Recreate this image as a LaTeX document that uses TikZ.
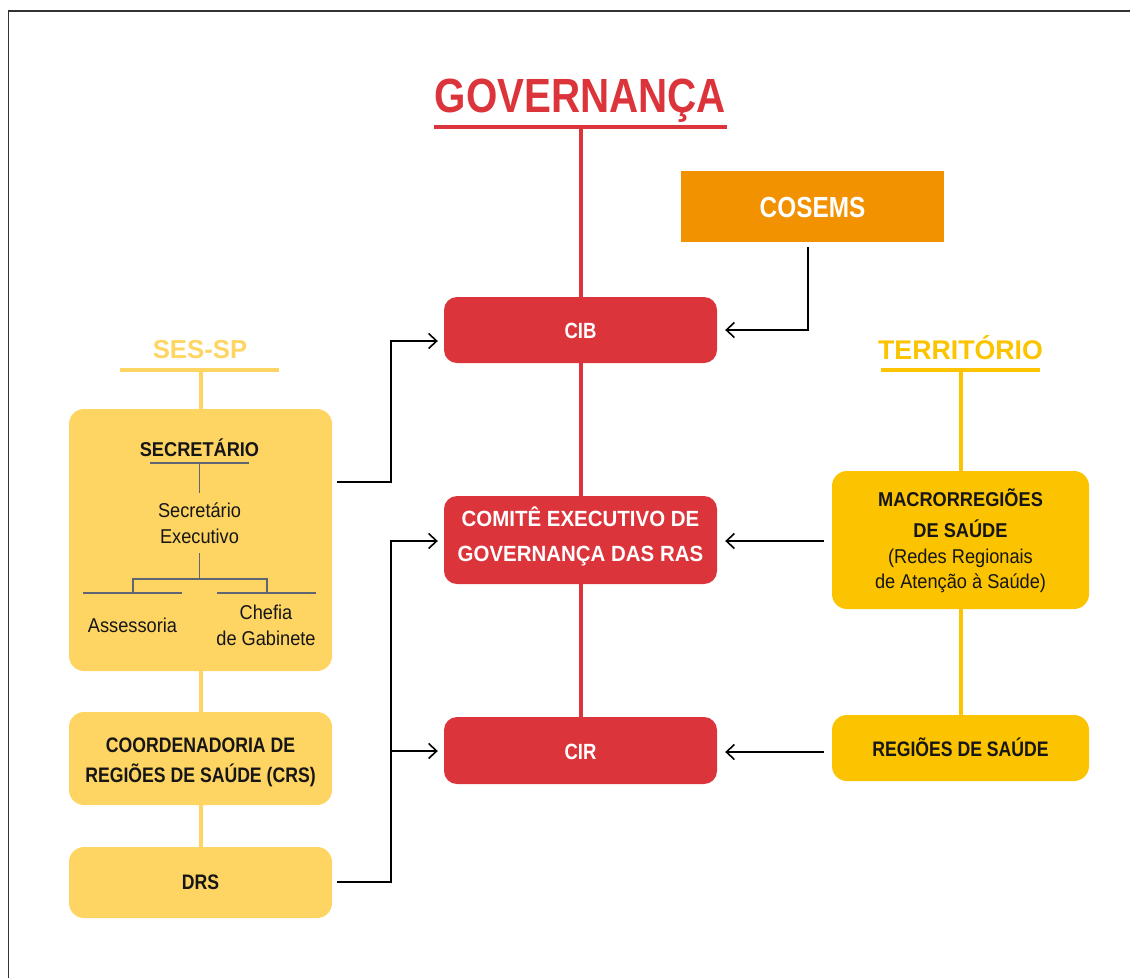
\documentclass[tikz,border=0pt]{standalone}
\usepackage{fontspec}
\setmainfont{Liberation Sans}[FakeStretch=0.84]
\newfontfamily\midfont{Liberation Sans}[FakeStretch=0.91]
\newfontfamily\comfont{Liberation Sans}[FakeStretch=0.93]
\newfontfamily\widefont{Liberation Sans}[FakeStretch=0.99]
\usetikzlibrary{arrows.meta,fit}
\definecolor{gred}{HTML}{DC343B}
\definecolor{gorange}{HTML}{F29200}
\definecolor{lyel}{HTML}{FED563}
\definecolor{dyel}{HTML}{FBC300}
\definecolor{ggray}{HTML}{5E6573}
\definecolor{tblack}{HTML}{161616}
\newcommand{\fs}[1]{\fontsize{#1}{#1}\selectfont}
\begin{document}
\begin{tikzpicture}[x=1pt,y=-1pt,
  redbox/.style={fill=gred,draw=none,rounded corners=13pt,inner sep=0pt},
  lbox/.style={fill=lyel,draw=none,rounded corners=15pt,inner sep=0pt},
  dbox/.style={fill=dyel,draw=none,rounded corners=15pt,inner sep=0pt},
  obox/.style={fill=gorange,draw=none,inner sep=0pt},
  txt/.style={anchor=base,inner sep=0pt,text=tblack},
  wtxt/.style={anchor=base,inner sep=0pt,text=white,font=\bfseries\fs{22}},
  conn/.style={draw=black,line width=1.8pt,-{Straight Barb[length=8pt,width=15pt,line width=1.6pt]}},
  redline/.style={draw=gred,line width=4pt},
  lline/.style={draw=lyel,line width=4pt},
  dline/.style={draw=dyel,line width=4pt},
  gline/.style={draw=ggray,line width=1.5pt}]
\useasboundingbox (0,0) rectangle (1130,978);
% frame
\draw[line width=1.6pt,draw=black!80] (8.5,978) -- (8.5,11) -- (1130,11);

% boxes
\node[obox,fit={(681,171) (944,242)}] (cosems) {};
\node[redbox,fit={(444,297) (717,363)}] (cib) {};
\node[redbox,fit={(444,496) (717,584)}] (comite) {};
\node[redbox,fit={(444,717) (717,784)}] (cir) {};
\node[lbox,fit={(69,409) (332,671)}] (ses) {};
\node[lbox,fit={(69,712) (332,805)}] (coord) {};
\node[lbox,fit={(69,847) (332,918)}] (drs) {};
\node[dbox,fit={(832,471) (1089,609)}] (macro) {};
\node[dbox,fit={(832,715) (1089,781)}] (reg) {};

% titles
\node[anchor=base,inner sep=0pt,text=gred,font=\bfseries\fs{48}] (tgov) at (580.5,112) {GOVERNANÇA};
\draw[redline] (434,127) -- (727,127);
\node[anchor=base,inner sep=0pt,text=lyel,font=\widefont\bfseries\fs{26}] (tses) at (200,358) {SES-SP};
\draw[lline] (120,370) -- (279,370);
\node[anchor=base,inner sep=0pt,text=dyel,font=\widefont\bfseries\fs{27}] (tter) at (960.5,359) {TERRITÓRIO};
\draw[dline] (881,370) -- (1040,370);

% spines
\draw[redline] (cib.north |- 0,127) -- (cib.north);
\draw[redline] (cib.south) -- (comite.north);
\draw[redline] (comite.south) -- (cir.north);
\draw[lline] (ses.north |- 0,370) -- (ses.north);
\draw[lline] (ses.south) -- (coord.north);
\draw[lline] (coord.south) -- (drs.north);
\draw[dline] (macro.north |- 0,370) -- (macro.north);
\draw[dline] (macro.south) -- (reg.north);

% box texts
\node[anchor=base,inner sep=0pt,text=white,font=\bfseries\fs{29}] (tcos) at (812.5,217) {COSEMS};
\node[wtxt] (tcib) at (580.5,338) {CIB};
\node[wtxt,font=\comfont\bfseries\fs{22}] (tcom1) at (580.5,526) {COMITÊ EXECUTIVO DE};
\node[wtxt,font=\comfont\bfseries\fs{22}] (tcom2) at (580.5,561) {GOVERNANÇA DAS RAS};
\node[wtxt] (tcir) at (580.5,759) {CIR};

\node[txt,font=\midfont\bfseries\fs{20}] (tsec) at (199.5,456) {SECRETÁRIO};
\node[txt,font=\midfont\fs{20}] (tsx1) at (199.5,517) {Secretário};
\node[txt,font=\midfont\fs{20}] (tsx2) at (199.5,543) {Executivo};
\node[txt,font=\midfont\fs{20}] (tass) at (132.5,632) {Assessoria};
\node[txt,font=\midfont\fs{20}] (tch1) at (266,619) {Chefia};
\node[txt,font=\midfont\fs{20}] (tch2) at (266,645) {de Gabinete};
\draw[gline] (150,463) -- (249,463);
\draw[gline] (199.5,463) -- (199.5,493);
\draw[gline] (199.5,553) -- (199.5,579);
\draw[gline] (133,593) -- (133,579) -- (267,579) -- (267,593);
\draw[gline] (83,593) -- (182,593);
\draw[gline] (217,593) -- (316,593);

\node[txt,font=\bfseries\fs{21}] (tco1) at (200.5,752) {COORDENADORIA DE};
\node[txt,font=\bfseries\fs{21}] (tco2) at (200.5,782) {REGIÕES DE SAÚDE (CRS)};
\node[txt,font=\bfseries\fs{21}] (tdrs) at (200.5,889) {DRS};

\node[txt,font=\midfont\bfseries\fs{20}] (tma1) at (960.5,506) {MACRORREGIÕES};
\node[txt,font=\midfont\bfseries\fs{20}] (tma2) at (960.5,537) {DE SAÚDE};
\node[txt,font=\midfont\fs{20}] (tma3) at (960.5,563) {(Redes Regionais};
\node[txt,font=\midfont\fs{20}] (tma4) at (960.5,588) {de Atenção à Saúde)};
\node[txt,font=\bfseries\fs{21}] (treg) at (960.5,756) {REGIÕES DE SAÚDE};

% connectors
\draw[conn,shorten <=5pt,shorten >=6pt] (ses.east |- 0,482) -- (391,482) |- (cib.west |- 0,341);
\draw[conn,shorten <=5pt,shorten >=6pt] (drs.east |- 0,882) -- (391,882) |- (comite.west |- 0,541);
\draw[conn,shorten >=6pt] (391,751) -- (cir.west |- 0,751);
\draw[conn,shorten <=5pt,shorten >=8pt] (cosems.south -| 808,0) |- (cib.east |- 0,330);
\draw[conn,shorten <=8pt,shorten >=8pt] (macro.west |- 0,541) -- (comite.east |- 0,541);
\draw[conn,shorten <=8pt,shorten >=8pt] (reg.west |- 0,752) -- (cir.east |- 0,752);
\end{tikzpicture}
\end{document}
